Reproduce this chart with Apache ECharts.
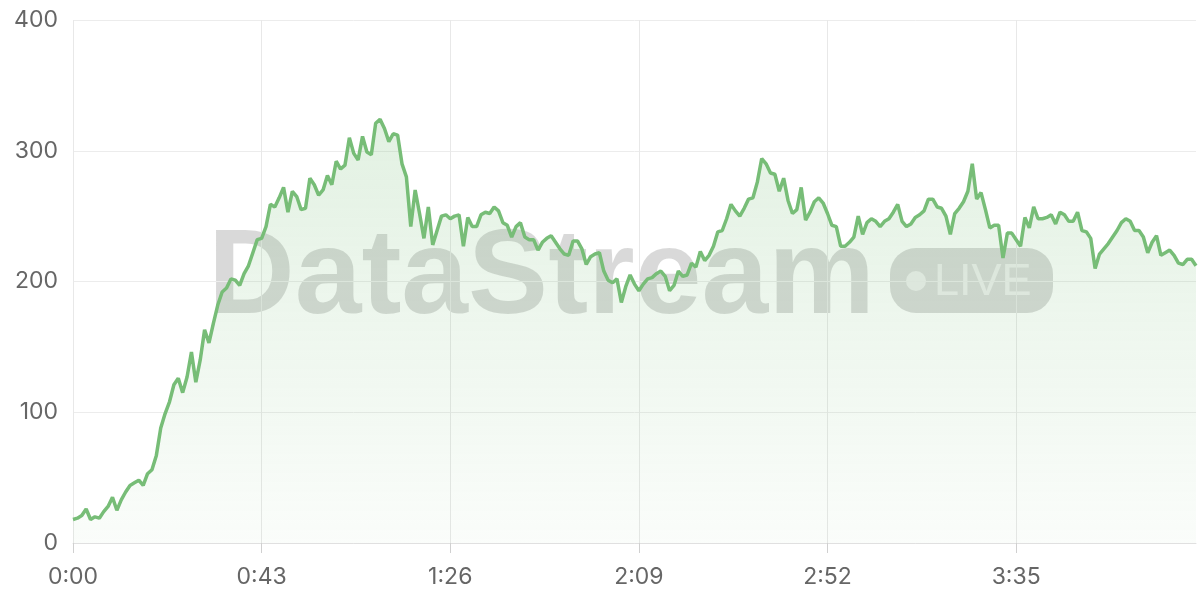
<!DOCTYPE html>
<html><head><meta charset="utf-8">
<script src="https://cdn.jsdelivr.net/npm/echarts@6/dist/echarts.min.js"></script>
<style>html,body{margin:0;padding:0;background:#fff}#c{width:1200px;height:600px}</style>
</head><body><div id="c"></div>
<script>
// seconds elapsed (one point per second)
const seconds = Array.from({length: 257}, (_, i) => i);
const categories = seconds.map(s => Math.floor(s / 60) + ':' + String(s % 60).padStart(2, '0'));
const values = [
  18, 19, 21, 26, 18, 20, 19, 24, 28, 35,
  25, 33, 39, 44, 46, 48, 44, 53, 56, 67,
  88, 99, 108, 121, 126, 115, 127, 146, 123, 140,
  163, 153, 168, 182, 192, 195, 202, 201, 197, 206,
  212, 222, 232, 233, 242, 259, 257, 264, 272, 253,
  269, 265, 255, 256, 279, 274, 266, 270, 281, 274,
  292, 286, 289, 310, 298, 293, 311, 299, 297, 321,
  324, 317, 307, 313, 312, 290, 280, 242, 270, 252,
  233, 257, 228, 239, 250, 251, 248, 250, 251, 227,
  249, 242, 242, 251, 253, 252, 257, 254, 245, 243,
  234, 242, 245, 234, 232, 232, 224, 230, 233, 235,
  230, 225, 221, 220, 231, 231, 225, 213, 219, 221,
  222, 208, 201, 199, 202, 184, 196, 205, 198, 193,
  198, 202, 203, 206, 208, 204, 193, 197, 208, 204,
  205, 214, 211, 223, 216, 220, 227, 238, 239, 248,
  259, 254, 250, 256, 263, 264, 276, 294, 290, 283,
  282, 269, 279, 262, 252, 255, 272, 247, 253, 261,
  264, 260, 252, 243, 242, 227, 227, 230, 234, 250,
  236, 245, 248, 246, 242, 246, 248, 253, 259, 246,
  242, 244, 249, 251, 254, 263, 263, 257, 256, 250,
  236, 252, 256, 261, 269, 290, 263, 268, 255, 241,
  243, 243, 218, 237, 237, 232, 227, 249, 241, 257,
  248, 248, 249, 251, 244, 253, 251, 246, 246, 253,
  239, 238, 233, 210, 221, 225, 229, 234, 239, 245,
  248, 246, 239, 239, 234, 222, 230, 235, 220, 222,
  224, 220, 214, 213, 217, 217, 212
];
const yTicks = [0, 100, 200, 300, 400];
const watermarkText = 'DataStream';
const badgeText = 'LIVE';

const chart = echarts.init(document.getElementById('c'), null, {renderer: 'canvas'});
chart.setOption({
  animation: false,
  grid: {left: 73, right: 4, top: 20, bottom: 57},
  xAxis: {
    type: 'category',
    data: categories,
    boundaryGap: false,
    axisLine: {show: true, lineStyle: {color: '#e0e0e0', width: 1}},
    axisTick: {show: true, interval: 42, length: 10, lineStyle: {color: '#d0d0d0'}},
    axisLabel: {interval: 42, color: '#666', fontSize: 23, fontFamily: 'Inter', margin: 23},
    splitLine: {show: true, interval: 42, lineStyle: {color: '#e8e8e8', width: 1}}
  },
  yAxis: {
    type: 'value',
    min: yTicks[0], max: yTicks[yTicks.length - 1], interval: 100,
    axisLine: {show: false},
    axisTick: {show: false},
    axisLabel: {color: '#666', fontSize: 23, fontFamily: 'Inter', margin: 15},
    splitLine: {show: true, lineStyle: {color: '#ececec', width: 1}}
  },
  graphic: [
    {type: 'text', z: 0, left: 208, top: 220, style: {text: watermarkText, font: 'bold 120px "Liberation Sans"', fill: 'rgba(0,0,0,0.15)'}},
    {type: 'rect', z: 0, shape: {x: 890, y: 248, width: 163, height: 65, r: 26}, style: {fill: 'rgba(0,0,0,0.15)'}},
    {type: 'circle', z: 0, shape: {cx: 916, cy: 281, r: 10}, style: {fill: 'rgba(255,255,255,0.55)'}},
    {type: 'text', z: 0, left: 934, top: 260, style: {text: badgeText, font: '45px "Liberation Sans"', fill: 'rgba(255,255,255,0.55)'}}
  ],
  series: [{
    type: 'line',
    data: values,
    symbol: 'none',
    z: 5,
    lineStyle: {color: '#77bd77', width: 3.5},
    areaStyle: {
      color: new echarts.graphic.LinearGradient(0, 0, 0, 1, [
        {offset: 0, color: 'rgba(119,189,119,0.3)'},
        {offset: 1, color: 'rgba(119,189,119,0.05)'}
      ])
    }
  }]
});
</script></body></html>
